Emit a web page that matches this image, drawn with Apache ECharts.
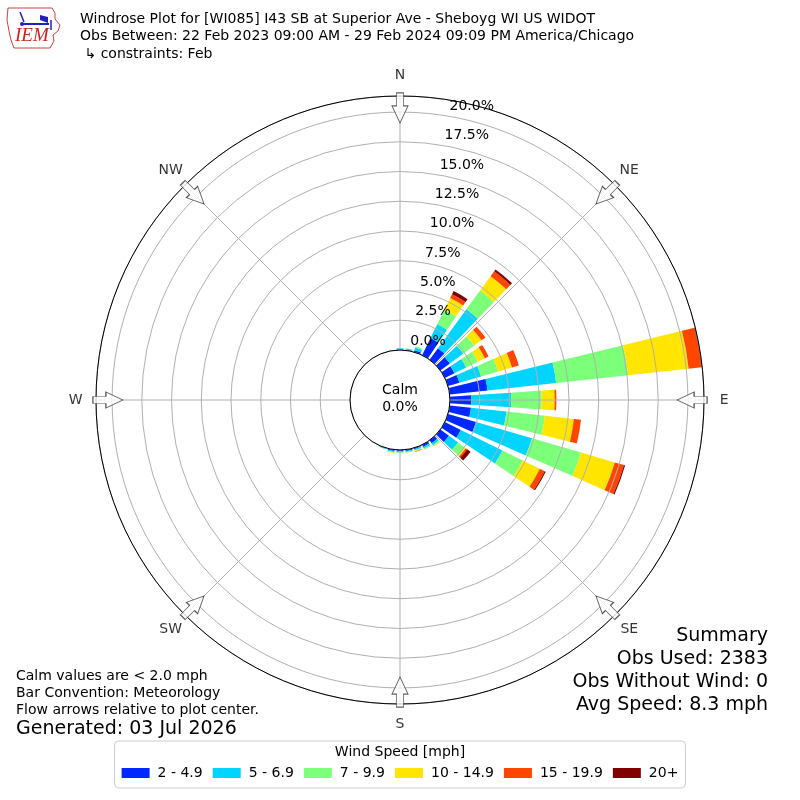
<!DOCTYPE html>
<html><head><meta charset="utf-8">
<script src="https://cdn.jsdelivr.net/npm/echarts/dist/echarts.min.js"></script>
<style>html,body{margin:0;padding:0;background:#fff}#c{width:800px;height:800px}</style>
</head><body><div id="c"></div>
<script>
// ---- data ----
const directions = ['0','10','20','30','40','50','60','70','80','90','100','110','120','130','140','150','160','170',
                    '180','190','200','210','220','230','240','250','260','270','280','290','300','310','320','330','340','350'];
const speedBins = ['2 - 4.9','5 - 6.9','7 - 9.9','10 - 14.9','15 - 19.9','20+'];
const spd2to5   = [0.05,0.05,0.15,1.6,1.2,1.0,0.9,1.0,3.2,1.8,1.8,2.45,1.5,0.9,0.3,0.2,0.1,0.1,0.1,0.1,0.05,0,0,0,0,0,0,0,0,0,0,0,0,0,0,0];
const spd5to7   = [0.1,0.1,0.25,1.3,4.05,1.4,1.1,1.9,5.8,3.35,3.0,4.9,3.9,0.95,0.2,0.15,0.1,0.1,0.1,0.1,0.05,0,0,0,0,0,0,0,0,0,0,0,0,0,0,0];
const spd7to10  = [0,0,0.1,1.35,1.95,1.15,1.1,1.5,6.1,2.55,3.25,4.3,1.9,0.7,0.1,0.1,0.05,0.05,0.05,0.05,0,0,0,0,0,0,0,0,0,0,0,0,0,0,0,0];
const spd10to15 = [0,0,0,1.1,1.5,0.75,0.65,1.2,5.1,1.1,2.45,2.95,1.6,0.1,0.05,0,0.05,0,0,0.05,0,0,0,0,0,0,0,0,0,0,0,0,0,0,0,0];
const spd15to20 = [0,0,0,0.35,0.5,0.4,0.35,0.6,1.1,0.15,0.6,0.8,0.45,0.15,0,0,0.05,0,0,0,0,0,0,0,0,0,0,0,0,0,0,0,0,0,0,0];
const spd20plus = [0,0,0,0.3,0.2,0,0,0,0.1,0,0,0.1,0.1,0.35,0,0,0,0,0,0,0,0,0,0,0,0,0,0,0,0,0,0,0,0,0,0];
const compassNames  = ['N','NE','E','SE','S','SW','W','NW'];
const compassAngles = [0,45,90,135,180,225,270,315];
const rMax = 21.35;       // outer circle of the plot (%)
const ringStep = 2.5;     // ring spacing (%)
const arrowR = 20.35;     // radial value where the flow arrows sit
const compassLabelR = 23.05; // radial value of the compass names
const calmPct = '0.0%';
const titleLines = ['Windrose Plot for [WI085] I43 SB at Superior Ave - Sheboyg WI US WIDOT',
                    'Obs Between: 22 Feb 2023 09:00 AM - 29 Feb 2024 09:09 PM America/Chicago',
                    ' \u21b3 constraints: Feb'];
const noteLines = ['Calm values are < 2.0 mph','Bar Convention: Meteorology','Flow arrows relative to plot center.'];
const generated = 'Generated: 03 Jul 2026';
const summaryLines = ['Summary','Obs Used: 2383','Obs Without Wind: 0','Avg Speed: 8.3 mph'];

// ---- styles ----
const binColors = ['#0028ff','#00d4ff','#7cff79','#ffe500','#ff4600','#800000'];
const FONT = 'DejaVu Sans';
const binData = [spd2to5, spd5to7, spd7to10, spd10to15, spd15to20, spd20plus];

const chart = echarts.init(document.getElementById('c'), null, {renderer:'canvas'});
const center = ['50%','50%'];
const radius = [50, 304];

const barSeries = binData.map((arr, i) => ({
  type:'bar', coordinateSystem:'polar', polarIndex:0, stack:'wind', name:speedBins[i],
  data:arr, barWidth:'76%', itemStyle:{color:binColors[i]}, z:1, silent:true
}));

const arrowPath = 'path://M4.5,0 L11.5,0 L11.5,13 L16,13 L8,30 L0,13 L4.5,13 Z';

function txt(text, x, y, size, align){
  return {type:'text', x:x, y:y, z:20, style:{text:text, font:size+'px "'+FONT+'"',
    fill:'#000', textAlign:align, align:align, textVerticalAlign:'middle', verticalAlign:'middle'}};
}

const graphics = [];
titleLines.forEach((t,i)=>graphics.push(txt(t, 80, 19 + i*17.5, 14, 'left')));
noteLines.forEach((t,i)=>graphics.push(txt(t, 16, 676 + i*17, 14, 'left')));
graphics.push(txt(generated, 16, 729, 19, 'left'));
summaryLines.forEach((t,i)=>graphics.push(txt(t, 768, 636 + i*23, 19, 'right')));
graphics.push(txt('Calm', 400, 390, 14, 'center'));
graphics.push(txt(calmPct, 400, 407, 14, 'center'));
graphics.push(txt('Wind Speed [mph]', 400, 752, 14, 'center'));
// IEM logo (approximation)
graphics.push({type:'polyline', z:20, shape:{points:[[8,8],[52,8],[55,13],[55,19],[60,25],[58,31],[53,35],[54,41],[50,48],[14,48],[11,40],[9,31],[7,20],[8,8]]},
  style:{stroke:'#d04040', fill:null, lineWidth:1}});
graphics.push({type:'line', z:21, shape:{x1:23,y1:24,x2:49,y2:24}, style:{stroke:'#2020c0', lineWidth:2}});
graphics.push({type:'line', z:21, shape:{x1:20,y1:12,x2:24,y2:22}, style:{stroke:'#2020c0', lineWidth:1.5}});
graphics.push({type:'polygon', z:21, shape:{points:[[40,15],[48,17],[48,23],[40,20]]}, style:{fill:'#2020c0'}});
graphics.push({type:'line', z:21, shape:{x1:51,y1:20,x2:51,y2:30}, style:{stroke:'#2020c0', lineWidth:1.5}});
graphics.push({type:'circle', z:21, shape:{cx:22,cy:24,r:2}, style:{fill:'#2020c0'}});
graphics.push({type:'text', x:15, y:36, z:21, style:{text:'IEM', font:'italic 19px "Liberation Serif"', fill:'#d02020',
  textAlign:'left', align:'left', textVerticalAlign:'middle', verticalAlign:'middle'}});

const option = {
  animation:false,
  backgroundColor:'#fff',
  textStyle:{fontFamily:FONT},
  polar:[
    {center:center, radius:radius},
    {center:center, radius:radius},
    {center:center, radius:radius}
  ],
  angleAxis:[
    {polarIndex:0, type:'category', data:directions, startAngle:95, clockwise:true,
     axisLine:{show:false}, axisTick:{show:false}, axisLabel:{show:false}, splitLine:{show:false}},
    {polarIndex:1, type:'value', min:0, max:360, interval:45, startAngle:90, clockwise:true, z:3,
     axisLine:{show:true, lineStyle:{color:'#000', width:1}}, axisTick:{show:false}, axisLabel:{show:false},
     splitLine:{show:true, lineStyle:{color:'#b0b0b0', width:1}}},
    {polarIndex:2, type:'value', min:0, max:360, startAngle:80.5, clockwise:true,
     axisLine:{show:false}, axisTick:{show:false}, axisLabel:{show:false}, splitLine:{show:false}}
  ],
  radiusAxis:[
    {polarIndex:0, min:0, max:rMax, axisLine:{show:false}, axisTick:{show:false}, axisLabel:{show:false}, splitLine:{show:false}},
    {polarIndex:1, min:0, max:rMax, interval:ringStep, z:3, axisLine:{show:false}, axisTick:{show:false}, axisLabel:{show:false},
     splitLine:{show:true, lineStyle:{color:'#b0b0b0', width:1}}},
    {polarIndex:2, min:0, max:rMax, interval:ringStep, z:6, axisLine:{show:false}, axisTick:{show:false}, splitLine:{show:false},
     axisLabel:{show:true, showMaxLabel:false, margin:-2, align:'left', verticalAlign:'bottom', padding:[0,0,3,0],
       color:'#000', fontSize:14, fontFamily:FONT, formatter:(v)=> v.toFixed(1)+'%'}}
  ],
  legend:{data:speedBins, left:'center', top:741, orient:'horizontal', icon:'rect', itemWidth:28, itemHeight:10, itemGap:10,
    padding:[25,7,8,7], borderColor:'#cccccc', borderWidth:1, borderRadius:4, selectedMode:false,
    textStyle:{fontSize:14, fontFamily:FONT, color:'#000', padding:[0,0,0,3]}},
  series: barSeries.concat([{
    type:'scatter', coordinateSystem:'polar', polarIndex:1, z:10, silent:true, clip:false,
    data: compassAngles.map(a=>[arrowR, a]),
    symbol:arrowPath, symbolSize:[16,30], symbolRotate:(val)=> -val[1],
    itemStyle:{color:'#fff', borderColor:'#333', borderWidth:1}
  },{
    type:'scatter', coordinateSystem:'polar', polarIndex:1, z:10, silent:true, clip:false,
    data: compassAngles.map((a,i)=>({value:[compassLabelR, a], name:compassNames[i]})),
    symbol:'circle', symbolSize:1, itemStyle:{color:'rgba(0,0,0,0)'},
    label:{show:true, position:'inside', formatter:'{b}', color:'#000', fontSize:14, fontFamily:FONT}
  }]),
  graphic:graphics
};
chart.setOption(option);
</script></body></html>
